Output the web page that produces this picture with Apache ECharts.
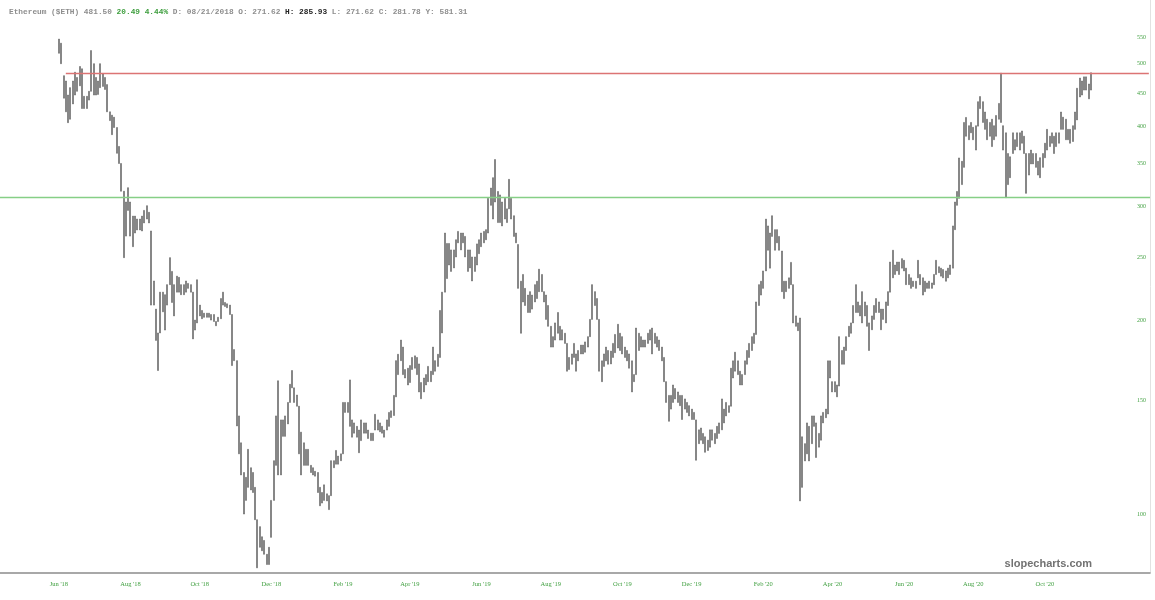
<!DOCTYPE html>
<html><head><meta charset="utf-8">
<script src="https://cdn.jsdelivr.net/npm/echarts@6/dist/echarts.min.js"></script>
<style>html,body{margin:0;padding:0;background:#fff}#c{width:1155px;height:600px}</style>
</head><body><div id="c"></div>
<script>
// Two-day price bars (high / low), first bar = 2018-06-01
const highs = [
546,538,479,470,447,459,470,485,476,495,
491,445,445,453,524,500,476,470,500,482,
476,464,421,416,413,398,372,350,317,305,
321,305,290,290,287,287,290,296,301,294,
275,230,208,191,221,221,219,227,250,238,
227,234,233,227,227,230,228,227,221,200,
231,211,207,205,205,205,204,204,199,202,
216,221,213,212,211,204,180,173,142,129,
116,114,126,118,116,110,98,95.6,92.2,91,
86.6,88.8,105,121,142,161,140,140,142,149,
159,167,157,153,147,134,129,126,126,119,
118,116.5,116,110,108,111,107.5,106.8,121,121,
125.5,123,124,149,149,149,161.5,140,138.5,136.8,
135,140,138.5,138.5,135,133.5,133.5,142.8,140,138.5,
136.8,135,140,143.8,144.6,152.8,173,177,186.2,181.6,
167.6,168.4,170,175,176,175,171,160,162.6,164.6,
169.5,166.6,181.6,173,177,207,221,273,263,263,
257,257,266.5,274.6,273,273,269.7,257,257,250.6,
250.6,262.6,266.5,273,274.6,276.3,309,320.6,332.7,355,
316.7,312.8,305,309,297.6,330.7,309,290.4,273,262,
229.8,235.4,224,218.7,221.4,218.7,227,229.8,239.9,235.4,
221.4,218.7,210.7,195.6,188.5,198,205.5,195.6,193.2,190.8,
184,175,177.2,184,177.2,179.4,182.9,182.9,185,188.5,
200.5,227,221.4,216,200.5,172.9,177.2,181.6,179.4,179,
184,190,197,190.8,188.5,181.6,179.4,177.2,172.9,164.6,
194.4,190.8,188.5,186.2,186.2,190.8,193.2,194.4,190.8,188.5,
186.2,181.6,175,160.5,152.8,152.8,158.6,156.6,154.7,152.8,
152.8,150.9,149,147.3,145.5,143.8,140,135.1,136,133.4,
131.8,130.2,135.1,135.1,133.4,136.8,138.5,150.9,145.5,149,
147.3,168.4,172.9,178.3,172.9,166.6,164.6,172.9,179.4,184,
188.5,190.8,213.4,227,229.8,238.4,286.9,280,273,290.4,
276.3,276.3,269.7,256,229.8,229.8,232.6,245.8,227,203,
198,201.5,131.8,128.6,138.5,136.8,142,142,138.5,133.4,
142,143.8,145.5,172.9,172.9,160.5,160.5,158.6,188.5,179.4,
181.6,188.5,195.6,198,210.7,227,213.4,210.7,221.4,213.4,
210.7,198,203,210.7,216,213.4,208,208,213.4,221.4,
246.1,256.7,243.5,246.1,246.1,249.1,247.6,240.8,235.4,232.6,
229.8,229.8,247.6,235.4,232.6,229.8,228.4,229.8,228.4,235.4,
247.6,242,240.8,239.6,238.4,240.8,243.5,280,305,316.7,
357,352.7,405.3,412.6,400.6,405.3,398.3,400.6,436.5,444.6,
436.5,420.7,410,405.3,410,400.6,415.5,433.8,483.3,400.6,
390.6,362.7,358.5,390.6,381,390.6,390.6,393.1,385.8,362.7,
362.7,367.2,362.7,362.7,352.7,357.3,362.7,376.3,395.4,385.8,
390.6,385.8,390.6,390.6,420.7,413,410,395.4,395.4,400.6,
420.7,458,475,470,477,477,465,484
];
const lows = [
519,500,442,421,405,410,433,447,453,462,
426,426,426,439,453,447,447,448,459,461,
456,421,408,388,398,363,350,317,250,270,
296,270,260,273,276,276,275,283,287,283,
211,211,186,167,191,206,193,211,227,213,
203,221,221,219,219,221,224,221,187,193,
198,203,201,202,202,202,200,199,196,199,
201,211,210,209,204,170,173,137,124,115,
100,105,110,109,108,98,82.5,88.8,87.7,86.6,
83.5,83.5,92,105,119,115,115,132,132,138,
149,157,149,147,124,115,119,119,119,116,
115,114.5,108,103,104,105,104.8,101.6,106.8,118,
119.5,119.5,121,124,143.8,143.8,136.8,131.6,133.5,131.6,
124.5,130,133.5,133.5,131,130,130,135,135,134.2,
133.5,131.6,135,136.8,141.2,142.2,152,164.6,173,164.6,
162.6,158.6,160,167.6,168.4,164.6,154.7,151,154.7,158.6,
160.5,160.5,164.6,166.6,169.5,175,191,221,232,243.5,
238,241,250.6,263.6,257,263.6,250.6,238,241,230,
238,243.5,253.6,260,263.6,266.5,273,301.4,287,305,
283.4,283.4,280,287,283.4,297.6,287,269.7,263.6,224,
190.8,213.4,210.7,205.5,205.5,208,213.4,216,221.4,221.4,
213.4,200.5,195.6,181.6,181.6,186.2,190.8,186.2,186.2,184,
166.6,167.6,170.8,175,166.6,172.9,177.2,177.2,178.3,181.6,
188.5,200.5,210.7,200.5,166.6,160.5,169.5,172.9,170.8,171,
175,178,181,179.4,177.2,175,172.9,168.4,154.7,160.5,
164.6,179.4,181.6,181.6,181.6,184,186.2,177.2,184,181.6,
179.4,172.9,160.5,149,139.3,145.5,149,150.9,149,147.3,
140.2,145.5,143.8,142,140.2,140.2,121.2,128.6,130.2,128.6,
124.7,125.5,127,130.2,128.6,131,133.4,135.1,138.5,142,
143.8,147,162.6,166.6,164.6,158.6,158.6,164.6,170.8,175,
179.4,184,190,210.7,218.7,224,238.4,256.7,240.8,269.7,
256.7,263.6,256.7,221.4,216,221.4,224,227,198,195.6,
192.6,104.8,110,120.9,124,120.9,128.6,136.8,122.4,127,
130.2,138.5,141.1,143,162.6,154.7,154.7,152,158,170.8,
170.8,179.4,188.5,190.8,198,205.5,205.5,203,198,203,
195.6,179.4,193.2,200.5,205.5,205.5,193.2,200.5,198,210.7,
221,232.6,235.4,238.4,235.4,240.8,238.4,227,227,224,
225.5,224,232.6,227,218.7,221.4,224,224,224,227,
235.4,236.9,234,232.6,229.8,232.6,235.4,240.8,276.3,301.4,
309,324.6,345.2,385.8,381,390.6,381,367.2,400,425.9,
405.3,395.4,381,385.8,371.8,381,385.8,410,405.3,367.2,
309.8,324.6,332.7,362.7,367.2,371.8,367.2,376.3,362.7,314.6,
335.8,349.5,349.5,345.2,335.8,332.7,345.2,357.3,367.2,371.8,
376.3,362.7,371.8,376.3,395.4,395.4,381,381,376.3,378.6,
395.4,409,444,447,455,455,441,455
];
const yTicks = [100, 150, 200, 250, 300, 350, 400, 450, 500, 550];
const resistanceLevel = 484;
const supportLevel = 310.5;
const monthNames = ['Jan','Feb','Mar','Apr','May','Jun','Jul','Aug','Sep','Oct','Nov','Dec'];
const labelMonths = [5, 7, 9, 11, 1, 3];
const headerParts = ['Ethereum ($ETH) 481.50 ', '20.49 4.44%', ' D: 08/21/2018 O: 271.62 ', 'H: 285.93', ' L: 271.62 C: 281.78 Y: 581.31'];

// category axis: 2-day steps, starting 25 steps before the first bar
const leadSteps = 25;
const catCount = 498;
const t0 = Date.UTC(2018, 5, 1) - leadSteps * 2 * 86400000;
const cats = [];
for (let i = 0; i < catCount; i++) {
  const d = new Date(t0 + i * 2 * 86400000);
  cats.push(d.toISOString().slice(0, 10));
}
const lastBarIndex = leadSteps + highs.length - 1;
const monthOf = s => parseInt(s.slice(5, 7), 10) - 1;
const barData = cats.map((c, i) => {
  const j = i - leadSteps;
  if (j >= 0 && j < highs.length) return [lows[j], highs[j], lows[j], highs[j]];
  return '-';
});

const chart = echarts.init(document.getElementById('c'), null, {renderer: 'canvas'});
const mono = '"Liberation Mono", "DejaVu Sans Mono", monospace';
chart.setOption({
  animation: false,
  backgroundColor: '#ffffff',
  title: {
    left: 4, top: 3,
    text: '{g|' + headerParts[0] + '}{gr|' + headerParts[1] + '}{g|' + headerParts[2] + '}{b|' + headerParts[3] + '}{g|' + headerParts[4] + '}',
    textStyle: {
      fontSize: 8, fontFamily: mono,
      rich: {
        g: {fontSize: 7.8, fontFamily: mono, color: '#8e8e8e'},
        gr: {fontSize: 7.8, fontFamily: mono, color: '#3f9f3f'},
        b: {fontSize: 7.8, fontFamily: mono, color: '#222222', fontWeight: 'bold'}
      }
    }
  },
  grid: {left: 0, right: 5, top: 0, bottom: 27, containLabel: false},
  xAxis: {
    type: 'category', data: cats, boundaryGap: true,
    axisLine: {show: true, lineStyle: {color: '#8c8c8c', width: 1.5}},
    axisTick: {show: false},
    splitLine: {show: false},
    axisLabel: {
      margin: 8, fontSize: 6.5, color: '#3f9f3f', fontFamily: '"Liberation Serif", serif',
      interval: (index, value) => {
        if (index < leadSteps || index > lastBarIndex) return false;
        const m = monthOf(value);
        return labelMonths.indexOf(m) >= 0 && monthOf(cats[index - 1]) !== m;
      },
      formatter: value => monthNames[monthOf(value)] + " '" + value.slice(2, 4)
    }
  },
  yAxis: {
    type: 'log', logBase: 10, position: 'right', min: 81.0, max: 627.8,
    axisLine: {show: true, lineStyle: {color: '#e2e2e2', width: 1}},
    axisTick: {show: false},
    splitLine: {show: false},
    axisLabel: {
      inside: true, margin: 4, fontSize: 6, color: '#3f9f3f', fontFamily: '"Liberation Serif", serif',
      customValues: yTicks,
      formatter: v => String(Math.round(v))
    }
  },
  series: [{
    type: 'candlestick',
    data: barData,
    barWidth: 1.5,
    itemStyle: {color: '#8e8e8e', color0: '#8e8e8e', borderColor: '#5c5c5c', borderColor0: '#5c5c5c', borderWidth: 0.6},
    markLine: {
      silent: true, symbol: ['none', 'none'], label: {show: false}, animation: false,
      data: [
        [{coord: [cats[leadSteps + 3], resistanceLevel], lineStyle: {color: '#dc7474', width: 1.3, type: 'solid'}},
         {coord: [cats[catCount - 1], resistanceLevel]}],
        {yAxis: supportLevel, lineStyle: {color: '#86cf86', width: 1.3, type: 'solid'}}
      ]
    }
  }],
  graphic: [{
    type: 'text', right: 63, top: 558, silent: true,
    style: {text: 'slopecharts.com', font: 'bold 11px "Liberation Sans", Arial, sans-serif', fill: '#727272'}
  }]
});
</script>
</body></html>
